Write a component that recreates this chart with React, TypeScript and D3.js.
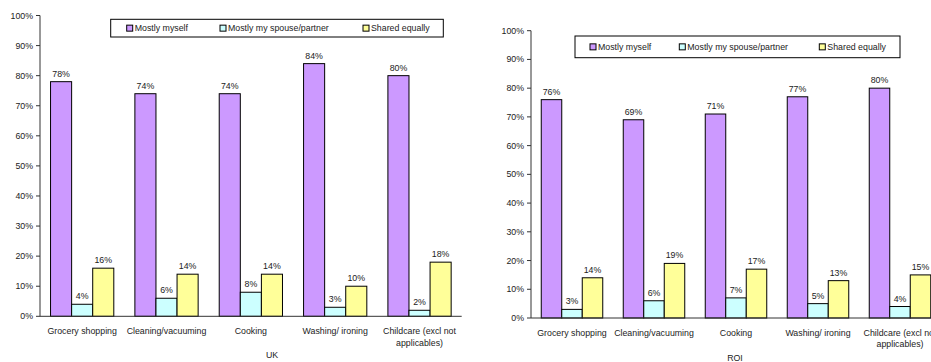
import React from "react";
import * as d3 from "d3";

const categoryLines: string[][] = [
  ["Grocery shopping"],
  ["Cleaning/vacuuming"],
  ["Cooking"],
  ["Washing/ ironing"],
  ["Childcare (excl not", "applicables)"],
];
const seriesNames = ["Mostly myself", "Mostly my spouse/partner", "Shared equally"];
const seriesColors = ["#CC99FF", "#CCFFFF", "#FFFF99"];
const yTicks = [0, 10, 20, 30, 40, 50, 60, 70, 80, 90, 100];

const ukMyself = [78, 74, 74, 84, 80];
const ukSpouse = [4, 6, 8, 3, 2];
const ukShared = [16, 14, 14, 10, 18];

const roiMyself = [76, 69, 71, 77, 80];
const roiSpouse = [3, 6, 7, 5, 4];
const roiShared = [14, 19, 17, 13, 15];

const FONT = "'Liberation Sans', Arial, sans-serif";
const TEXT = "#222";

type PanelProps = {
  title: string;
  series: number[][];
  x0: number;
  x1: number;
  yBottom: number;
  yTop: number;
  legend: { x: number; y: number; w: number; h: number; items: number[] };
  titleX: number;
  titleY: number;
  catY: number;
};

function Panel({ title, series, x0, x1, yBottom, yTop, legend, titleX, titleY, catY }: PanelProps) {
  const cats = categoryLines.map((l) => l.join(" "));
  const x = d3.scaleBand<string>().domain(cats).range([x0, x1]).paddingInner(0.25).paddingOuter(0.125);
  const inner = d3.scaleBand<number>().domain(d3.range(series.length)).range([0, x.bandwidth()]);
  const y = d3.scaleLinear().domain([0, 100]).range([yBottom, yTop]);
  const catCenter = (c: string) => (x(c) as number) + x.bandwidth() / 2;

  return (
    <g>
      {/* bars with value labels */}
      {cats.map((c, ci) =>
        series.map((vals, si) => {
          const bx = (x(c) as number) + (inner(si) as number);
          const v = vals[ci];
          return (
            <g key={`${ci}-${si}`}>
              <rect
                x={bx}
                y={y(v)}
                width={inner.bandwidth()}
                height={yBottom - y(v)}
                fill={seriesColors[si]}
                stroke="#000"
                strokeWidth={1}
              />
              <text
                x={bx + inner.bandwidth() / 2}
                y={y(v) - 5}
                textAnchor="middle"
                fontSize={8.8}
                fontFamily={FONT}
                fill={TEXT}
              >
                {v}%
              </text>
            </g>
          );
        })
      )}
      {/* y axis */}
      <line x1={x0} x2={x0} y1={yTop} y2={yBottom} stroke="#333" strokeWidth={1} />
      {yTicks.map((t) => (
        <g key={t}>
          <line x1={x0 - 4} x2={x0} y1={y(t)} y2={y(t)} stroke="#333" />
          <text
            x={x0 - 7}
            y={y(t) + 3}
            textAnchor="end"
            fontSize={8.8}
            fontFamily={FONT}
            fill={TEXT}
          >
            {t}%
          </text>
        </g>
      ))}
      {/* x axis */}
      <line x1={x0} x2={x1} y1={yBottom} y2={yBottom} stroke="#333" strokeWidth={1} />
      {cats.map((c, ci) => (
        <text key={c} textAnchor="middle" fontSize={8.8} fontFamily={FONT} fill={TEXT}>
          {categoryLines[ci].map((line, li) => (
            <tspan key={li} x={catCenter(c)} y={catY + li * 11.5}>
              {line}
            </tspan>
          ))}
        </text>
      ))}
      <text x={titleX} y={titleY} textAnchor="middle" fontSize={8.8} fontFamily={FONT} fill={TEXT}>
        {title}
      </text>
      {/* legend */}
      <rect x={legend.x} y={legend.y} width={legend.w} height={legend.h} fill="#fff" stroke="#000" />
      {seriesNames.map((name, si) => (
        <g key={name}>
          <rect
            x={legend.items[si]}
            y={legend.y + legend.h / 2 - 3}
            width={6}
            height={6}
            fill={seriesColors[si]}
            stroke="#000"
          />
          <text
            x={legend.items[si] + 8}
            y={legend.y + legend.h / 2 + 3}
            fontSize={8.8}
            fontFamily={FONT}
            fill={TEXT}
          >
            {name}
          </text>
        </g>
      ))}
    </g>
  );
}

export default function App() {
  return (
    <svg
      width={931}
      height={362}
      style={{ position: "absolute", left: 0, top: 0, background: "#fff" }}
    >
      <Panel
        title="UK"
        series={[ukMyself, ukSpouse, ukShared]}
        x0={40}
        x1={461.7}
        yBottom={316.3}
        yTop={15.5}
        legend={{ x: 110.7, y: 19.3, w: 332.6, h: 17.7, items: [126.7, 220, 363] }}
        catY={334}
        titleX={272}
        titleY={357.5}
      />
      <Panel
        title="ROI"
        series={[roiMyself, roiSpouse, roiShared]}
        x0={531}
        x1={941}
        yBottom={318}
        yTop={30.7}
        legend={{ x: 575, y: 36, w: 325, h: 21.7, items: [590, 679.3, 819.3] }}
        catY={335.5}
        titleX={735}
        titleY={361}
      />
    </svg>
  );
}
